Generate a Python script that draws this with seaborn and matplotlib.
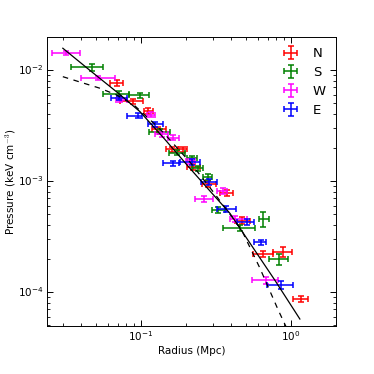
import matplotlib
matplotlib.use("Agg")
import numpy as np
import pandas as pd
import matplotlib.pyplot as plt
import seaborn as sns

# ---------------- data ----------------
# North
n_r   = [0.0692, 0.0889, 0.1122, 0.1303, 0.1603, 0.1897, 0.2233, 0.281, 0.3726, 0.469, 0.653, 0.889, 1.161]
n_rlo = [0.0621, 0.0724, 0.1047, 0.1178, 0.1468, 0.1758, 0.2017, 0.254, 0.3365, 0.4234, 0.556, 0.762, 1.026]
n_rhi = [0.0755, 0.1036, 0.1202, 0.1468, 0.1799, 0.2018, 0.2473, 0.316, 0.4087, 0.533, 0.762, 1.02, 1.304]
n_p   = [0.00764, 0.00523, 0.00425, 0.00292, 0.00194, 0.00194, 0.001336, 0.00094, 0.000785, 0.000439, 0.00022, 0.000231, 8.65e-5]
n_pe  = [0.06, 0.05, 0.06, 0.06, 0.05, 0.05, 0.06, 0.06, 0.06, 0.07, 0.07, 0.10, 0.06]

# South
s_r   = [0.0473, 0.071, 0.0985, 0.1339, 0.173, 0.2178, 0.241, 0.2786, 0.3248, 0.457, 0.653, 0.836]
s_rlo = [0.034, 0.0561, 0.0836, 0.113, 0.1545, 0.2017, 0.218, 0.259, 0.296, 0.354, 0.615, 0.717]
s_rhi = [0.0556, 0.0836, 0.113, 0.156, 0.1974, 0.235, 0.26, 0.297, 0.363, 0.575, 0.717, 0.959]
s_p   = [0.01057, 0.00612, 0.00591, 0.00278, 0.0018, 0.0016, 0.0013, 0.00109, 0.000548, 0.000379, 0.000455, 0.000198]
s_pe  = [0.07, 0.05, 0.06, 0.05, 0.05, 0.06, 0.06, 0.06, 0.06, 0.06, 0.15, 0.11]

# West
w_r   = [0.0316, 0.0514, 0.0724, 0.1166, 0.1374, 0.164, 0.212, 0.264, 0.3505, 0.4235, 0.681]
w_rlo = [0.0255, 0.0396, 0.0681, 0.109, 0.124, 0.152, 0.1995, 0.229, 0.321, 0.392, 0.547]
w_rhi = [0.0394, 0.0668, 0.081, 0.124, 0.152, 0.18, 0.229, 0.302, 0.374, 0.507, 0.823]
w_p   = [0.01433, 0.0084, 0.00537, 0.00397, 0.00264, 0.00245, 0.00151, 0.000684, 0.000813, 0.000452, 0.000128]
w_pe  = [0.04, 0.04, 0.05, 0.05, 0.05, 0.05, 0.05, 0.06, 0.06, 0.06, 0.07]

# East
e_r   = [0.0717, 0.096, 0.124, 0.1626, 0.218, 0.285, 0.369, 0.507, 0.628, 0.854]
e_rlo = [0.0631, 0.0807, 0.1114, 0.141, 0.182, 0.25, 0.32, 0.436, 0.569, 0.689]
e_rhi = [0.081, 0.101, 0.1403, 0.18, 0.247, 0.323, 0.43, 0.567, 0.681, 1.036]
e_p   = [0.0056, 0.00387, 0.00324, 0.00144, 0.00149, 0.000973, 0.000562, 0.00043, 0.00028, 0.000116]
e_pe  = [0.05, 0.05, 0.05, 0.05, 0.06, 0.06, 0.06, 0.06, 0.05, 0.08]

# model curves
fit_r  = [0.0301, 0.0457, 0.0706, 0.0985, 0.1445, 0.2122, 0.2884, 0.3918, 0.533, 0.782, 1.148]
fit_p  = [0.01569, 0.0099, 0.00617, 0.00421, 0.002366, 0.0013, 0.000813, 0.000512, 0.000276, 0.0001277, 5.71e-5]
ref_r  = [0.0301, 0.0533, 0.0689, 0.0912, 0.1339, 0.2122, 0.311, 0.469, 0.621, 0.823, 0.985]
ref_p  = [0.0087, 0.00684, 0.00595, 0.00474, 0.00294, 0.00148, 0.000764, 0.000362, 0.0001644, 6.89e-5, 4.1e-5]

labels = ["N", "S", "W", "E"]
colors = ["#ff0000", "#008000", "#ff00ff", "#0000ff"]

# ---------------- figure ----------------
plt.style.use("classic")
plt.rcParams["axes.linewidth"] = 0.7
fig = plt.figure(figsize=(3.74, 3.74), dpi=100, facecolor="white")
ax = fig.add_axes([0.1249, 0.1283, 0.7735, 0.7727])
ax.set_xscale("log")
ax.set_yscale("log")

series = [(n_r, n_rlo, n_rhi, n_p, n_pe),
          (s_r, s_rlo, s_rhi, s_p, s_pe),
          (w_r, w_rlo, w_rhi, w_p, w_pe),
          (e_r, e_rlo, e_rhi, e_p, e_pe)]
for (r, rlo, rhi, p, pe), lab, c in zip(series, labels, colors):
    r = np.array(r); p = np.array(p)
    xerr = [r - np.array(rlo), np.array(rhi) - r]
    yerr = p * np.array(pe)
    ax.errorbar(r, p, xerr=xerr, yerr=yerr, fmt="none", ecolor=c,
                elinewidth=1.1, capsize=2.5, capthick=1.1, label=lab)

df_fit = pd.DataFrame({"r": fit_r, "p": fit_p})
df_ref = pd.DataFrame({"r": ref_r, "p": ref_p})
sns.lineplot(data=df_fit, x="r", y="p", sort=False, estimator=None,
             color="k", lw=0.9, ax=ax)
sns.lineplot(data=df_ref, x="r", y="p", sort=False, estimator=None,
             color="k", lw=0.9, ax=ax, linestyle=(0, (4, 4)))

ax.set_xlim(0.0235, 2.0)
ax.set_ylim(4.94e-5, 0.0198)
ax.tick_params(axis="both", which="major", labelsize=7.5, length=4, width=0.7,
               direction="in", top=True, right=True, pad=2.5)
ax.tick_params(axis="both", which="minor", length=2, width=0.6, direction="in",
               top=True, right=True, pad=2.5)
ax.set_xlabel("Radius (Mpc)", fontsize=7.5, labelpad=2)
ax.set_ylabel("Pressure (keV cm$^{-3}$)", fontsize=7.5, labelpad=0)

leg = ax.legend(loc="upper left", bbox_to_anchor=(0.82, 0.965), frameon=False,
                fontsize=9.5, numpoints=1, handlelength=1.0, handletextpad=1.2,
                labelspacing=0.45, borderpad=0, borderaxespad=0)

fig.savefig("out.png", dpi=100, facecolor="white")
